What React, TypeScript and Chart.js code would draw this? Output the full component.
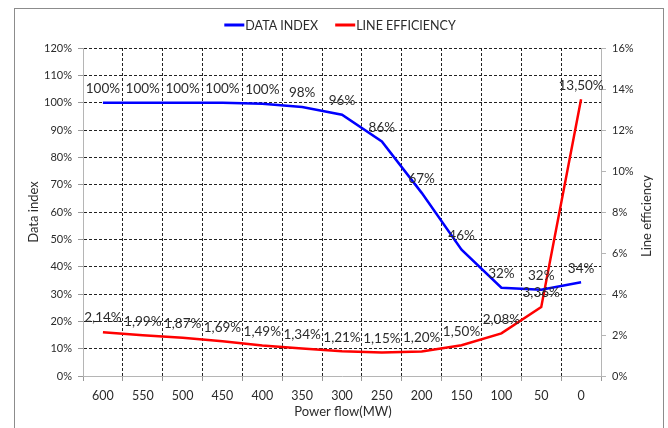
import React, { useEffect, useRef } from 'react';
import { Chart, registerables } from 'chart.js';

Chart.register(...registerables);

const categories = ['600', '550', '500', '450', '400', '350', '300', '250', '200', '150', '100', '50', '0'];
const dataIndex = [100, 100, 100, 100, 99.6, 98.4, 95.6, 85.8, 67, 46.2, 32.3, 31.6, 34.3];
const lineEfficiency = [2.14, 1.99, 1.87, 1.69, 1.49, 1.34, 1.21, 1.15, 1.2, 1.5, 2.08, 3.36, 13.5];
const dataIndexLabels = ['100%', '100%', '100%', '100%', '100%', '98%', '96%', '86%', '67%', '46%', '32%', '32%', '34%'];
const lineEfficiencyLabels = ['2,14%', '1,99%', '1,87%', '1,69%', '1,49%', '1,34%', '1,21%', '1,15%', '1,20%', '1,50%', '2,08%', '3,36%', '13,50%'];
const leftTicks = { min: 0, max: 120, step: 10 };
const rightTicks = { min: 0, max: 16, step: 2 };
const seriesNames = ['DATA INDEX', 'LINE EFFICIENCY'];
const xTitle = 'Power flow(MW)';
const yTitle = 'Data index';
const y1Title = 'Line efficiency';

const FONT = 'Lato, "Open Sans", "DejaVu Sans", sans-serif';
const TEXT = '#2b2b2b';

const decor = {
  id: 'decor',
  beforeDraw(chart: any) {
    const ctx = chart.ctx;
    ctx.save();
    ctx.fillStyle = '#ffffff';
    ctx.fillRect(0, 0, chart.width, chart.height);
    ctx.restore();
  },
  afterDatasetsDraw(chart: any) {
    const ctx = chart.ctx;
    const allLabels = [dataIndexLabels, lineEfficiencyLabels];
    ctx.save();
    ctx.font = `13.5px ${FONT}`;
    ctx.fillStyle = TEXT;
    ctx.textAlign = 'center';
    ctx.textBaseline = 'middle';
    chart.data.datasets.forEach((ds: any, di: number) => {
      const meta = chart.getDatasetMeta(di);
      meta.data.forEach((pt: any, i: number) => {
        ctx.fillText(allLabels[di][i], pt.x, pt.y - 14);
      });
    });
    ctx.restore();
  },
  afterDraw(chart: any) {
    const ctx = chart.ctx;
    ctx.save();
    // outer frame
    ctx.strokeStyle = '#8c8c8c';
    ctx.lineWidth = 1;
    ctx.strokeRect(14.5, 8.5, 649, 440);

    // legend
    ctx.font = `12.5px ${FONT}`;
    ctx.textBaseline = 'middle';
    ctx.textAlign = 'left';
    const lineW = 20;
    const gapText = 1;
    const gapItems = 17;
    const widths = chart.data.datasets.map((ds: any) => lineW + gapText + ctx.measureText(ds.label).width);
    const total = widths.reduce((a: number, b: number) => a + b, 0) + gapItems * (widths.length - 1);
    let x = 340 - total / 2;
    const ly = 25;
    chart.data.datasets.forEach((ds: any, i: number) => {
      ctx.strokeStyle = ds.borderColor;
      ctx.lineWidth = 3;
      ctx.beginPath();
      ctx.moveTo(x, ly);
      ctx.lineTo(x + lineW, ly);
      ctx.stroke();
      ctx.fillStyle = TEXT;
      ctx.fillText(ds.label, x + lineW + gapText, ly + 1);
      x += widths[i] + gapItems;
    });

    // axis titles
    ctx.fillStyle = TEXT;
    ctx.font = `13px ${FONT}`;
    ctx.textAlign = 'center';
    ctx.textBaseline = 'middle';
    ctx.fillText(xTitle, 343, 412);
    ctx.save();
    ctx.translate(34, 212);
    ctx.rotate(-Math.PI / 2);
    ctx.fillText(yTitle, 0, 0);
    ctx.restore();
    ctx.save();
    ctx.translate(647, 216);
    ctx.rotate(-Math.PI / 2);
    ctx.fillText(y1Title, 0, 0);
    ctx.restore();
    ctx.restore();
  },
};

export default function App() {
  const ref = useRef<HTMLCanvasElement | null>(null);
  useEffect(() => {
    if (!ref.current) return;
    const chart = new Chart(ref.current, {
      type: 'line',
      data: {
        labels: categories,
        datasets: [
          {
            label: seriesNames[0],
            data: dataIndex,
            borderColor: '#0000ff',
            backgroundColor: '#0000ff',
            borderWidth: 2.5,
            pointRadius: 0,
            tension: 0,
            yAxisID: 'y',
          },
          {
            label: seriesNames[1],
            data: lineEfficiency,
            borderColor: '#ff0000',
            backgroundColor: '#ff0000',
            borderWidth: 2.5,
            pointRadius: 0,
            tension: 0,
            yAxisID: 'y1',
          },
        ],
      },
      options: {
        responsive: false,
        animation: false,
        devicePixelRatio: 1,
        layout: { padding: { top: 48, left: 0, right: 0, bottom: 0 } },
        plugins: { legend: { display: false }, tooltip: { enabled: false }, title: { display: false } },
        scales: {
          x: {
            type: 'category',
            offset: true,
            grid: {
              offset: true,
              color: '#222222',
              lineWidth: 1,
              tickLength: 5,
              tickColor: '#999999',
              tickBorderDash: [],
            },
            border: { color: '#b5b5b5', width: 1, dash: [3, 2] },
            ticks: { color: TEXT, font: { family: FONT, size: 12.5 }, padding: 7, maxRotation: 0, autoSkip: false },
            afterFit: (s: any) => { s.height = 428 - 376; },
          },
          y: {
            type: 'linear',
            position: 'left',
            min: leftTicks.min,
            max: leftTicks.max,
            grid: {
              color: '#222222',
              lineWidth: 1,
              tickLength: 5,
              tickColor: '#999999',
              tickBorderDash: [],
            },
            border: { color: '#b5b5b5', width: 1, dash: [3, 2] },
            ticks: {
              stepSize: leftTicks.step,
              color: TEXT,
              font: { family: FONT, size: 11 },
              padding: 6,
              callback: (v: any) => `${v}%`,
            },
            afterFit: (s: any) => { s.width = 83; },
          },
          y1: {
            type: 'linear',
            position: 'right',
            min: rightTicks.min,
            max: rightTicks.max,
            grid: {
              drawOnChartArea: false,
              color: '#b5b5b5',
              tickLength: 5,
              tickColor: '#b5b5b5',
            },
            border: { color: '#b5b5b5', width: 1 },
            ticks: {
              stepSize: rightTicks.step,
              color: TEXT,
              font: { family: FONT, size: 11 },
              padding: 6,
              callback: (v: any) => `${v}%`,
            },
            afterFit: (s: any) => { s.width = 668 - 601; },
          },
        },
      },
      plugins: [decor],
    } as any);
    return () => chart.destroy();
  }, []);
  return (
    <div style={{ position: 'fixed', left: 0, top: 0, width: 668, height: 428 }}>
      <canvas ref={ref} width={668} height={428} style={{ width: 668, height: 428, display: 'block' }} />
    </div>
  );
}
